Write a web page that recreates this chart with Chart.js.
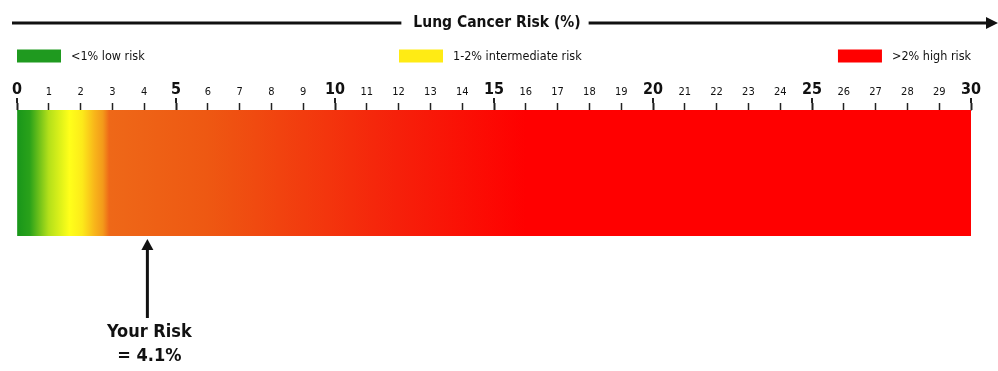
<!DOCTYPE html>
<html>
<head>
<meta charset="utf-8">
<script src="https://cdn.jsdelivr.net/npm/chart.js@4"></script>
<style>
  html, body { margin: 0; padding: 0; background: #fff; }
  #wrap { width: 998px; height: 371px; }
</style>
</head>
<body>
<div id="wrap"><canvas id="riskChart" width="998" height="371"></canvas></div>
<script>
// chart data
var chartTitle = 'Lung Cancer Risk (%)';
var riskBands = ['<1% low risk', '1-2% intermediate risk', '>2% high risk'];
var scaleMin = 0;
var scaleMax = 30;
var yourRisk = 4.1;
var riskLabel = ['Your Risk', '= 4.1%'];

// colours
var bandColors = ['#1f9a1f', '#ffeb14', '#ff0000'];
var gradientStops = [
    [0, '#18961a'], [0.4, '#2aa21a'], [1.0, '#b4e01a'], [1.65, '#ffff1a'],
    [2.05, '#fcea1a'], [2.45, '#f8b41a'], [2.7, '#f39a1a'], [2.9, '#ee6818'],
    [6, '#ee5812'], [12, '#f6200a'], [16, '#ff0000'], [30, '#ff0000']
];

var FONT = '"Liberation Sans Narrow", "DejaVu Sans Condensed", "Liberation Sans", sans-serif';

// draws title line, legend and the "your risk" arrow
var decorations = {
    id: 'decorations',
    afterDraw: function (chart) {
        var ctx = chart.ctx;
        var area = chart.chartArea;
        var x = chart.scales.x;
        ctx.save();
        ctx.fillStyle = '#111';
        ctx.strokeStyle = '#111';

        // longer marks for the major ticks
        ctx.lineWidth = 2;
        ctx.strokeStyle = '#222';
        for (var v = scaleMin; v <= scaleMax; v += 5) {
            var px = Math.round(x.getPixelForValue(v));
            ctx.beginPath();
            ctx.moveTo(px, area.top - 12);
            ctx.lineTo(px, area.top - 7);
            ctx.stroke();
        }
        ctx.strokeStyle = '#111';

        // title with arrow line
        ctx.font = 'bold 15.5px ' + FONT;
        ctx.textAlign = 'center';
        ctx.textBaseline = 'middle';
        var cx = 497, ty = 23;
        ctx.fillText(chartTitle, cx, ty);
        var tw = ctx.measureText(chartTitle).width;
        ctx.lineWidth = 3;
        ctx.beginPath();
        ctx.moveTo(12, ty);
        ctx.lineTo(cx - tw / 2 - 12, ty);
        ctx.moveTo(cx + tw / 2 + 8, ty);
        ctx.lineTo(988, ty);
        ctx.stroke();
        ctx.beginPath();
        ctx.moveTo(998, ty);
        ctx.lineTo(986, ty - 6);
        ctx.lineTo(986, ty + 6);
        ctx.closePath();
        ctx.fill();

        // legend
        ctx.font = '12.5px ' + FONT;
        ctx.textAlign = 'left';
        var ly = 56, bw = 44, bh = 13, gap = 10;
        riskBands.forEach(function (label, i) {
            var w = bw + gap + ctx.measureText(label).width;
            var lx;
            if (i === 0) lx = area.left;
            else if (i === riskBands.length - 1) lx = area.right - w;
            else lx = 399;
            ctx.fillStyle = bandColors[i];
            ctx.fillRect(lx, ly - bh / 2, bw, bh);
            ctx.fillStyle = '#111';
            ctx.fillText(label, lx + bw + gap, ly + 1);
        });

        // your risk arrow
        var ax = x.getPixelForValue(yourRisk);
        var tip = area.bottom + 3;
        ctx.lineWidth = 3;
        ctx.beginPath();
        ctx.moveTo(ax, tip + 8);
        ctx.lineTo(ax, 318);
        ctx.stroke();
        ctx.beginPath();
        ctx.moveTo(ax, tip);
        ctx.lineTo(ax - 6, tip + 11);
        ctx.lineTo(ax + 6, tip + 11);
        ctx.closePath();
        ctx.fill();

        ctx.font = 'bold 18px ' + FONT;
        ctx.textAlign = 'center';
        ctx.fillText(riskLabel[0], ax + 2, 332);
        ctx.fillText(riskLabel[1], ax + 2, 356);
        ctx.restore();
    }
};

var ctx = document.getElementById('riskChart').getContext('2d');
var riskChart = new Chart(ctx, {
    type: 'bar',
    data: {
        labels: ['risk'],
        datasets: [{
            data: [scaleMax],
            backgroundColor: function (c) {
                var chart = c.chart;
                if (!chart.chartArea) return '#ff0000';
                var sx = chart.scales.x;
                var g = chart.ctx.createLinearGradient(sx.getPixelForValue(scaleMin), 0, sx.getPixelForValue(scaleMax), 0);
                gradientStops.forEach(function (s) {
                    g.addColorStop((s[0] - scaleMin) / (scaleMax - scaleMin), s[1]);
                });
                return g;
            },
            borderWidth: 0,
            barPercentage: 1,
            categoryPercentage: 1
        }]
    },
    options: {
        indexAxis: 'y',
        responsive: false,
        animation: false,
        layout: { padding: { left: 17, right: 27, top: 0, bottom: 135 } },
        plugins: {
            legend: { display: false },
            tooltip: { enabled: false }
        },
        scales: {
            x: {
                position: 'top',
                min: scaleMin,
                max: scaleMax,
                afterFit: function (scale) { scale.height = 110; },
                ticks: {
                    stepSize: 1,
                    padding: 4,
                    maxRotation: 0,
                    autoSkip: false,
                    color: '#111',
                    font: function (c) {
                        var major = c.tick && c.tick.value % 5 === 0;
                        return { family: FONT, size: major ? 16 : 11, weight: major ? 'bold' : 'normal' };
                    }
                },
                grid: {
                    drawOnChartArea: false,
                    tickLength: 7,
                    tickColor: '#222',
                    tickWidth: function (c) { return c.tick && c.tick.value % 5 === 0 ? 2 : 1.5; }
                },
                border: { display: true, color: '#999', width: 1 }
            },
            y: { display: false }
        }
    },
    plugins: [decorations]
});
</script>
</body>
</html>
